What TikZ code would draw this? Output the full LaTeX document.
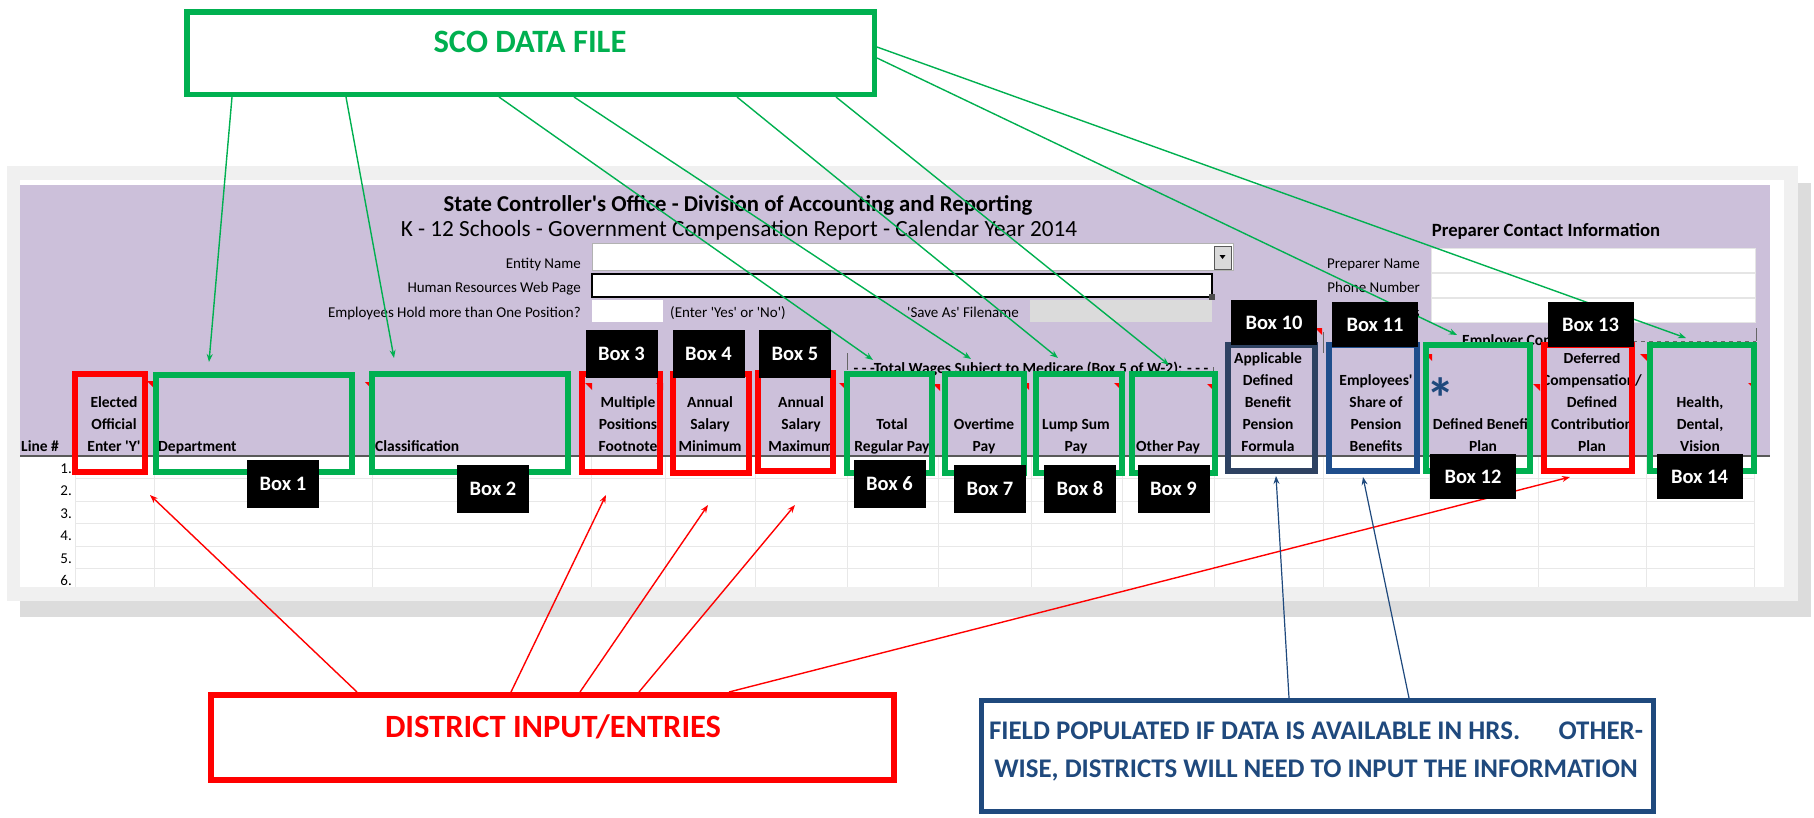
\documentclass[tikz,border=0pt]{standalone}
\usepackage{fontspec}
\setmainfont{Carlito}
\usepackage{xcolor}
\usepackage{tikz}
\usetikzlibrary{arrows.meta}

\definecolor{scogreen}{RGB}{0,176,80}
\definecolor{hdrpurple}{RGB}{204,192,218}
\definecolor{navyA}{RGB}{46,66,98}
\definecolor{navyB}{RGB}{31,78,140}
\definecolor{fieldblue}{RGB}{31,73,125}
\definecolor{shadowgray}{RGB}{220,220,220}
\definecolor{framegray}{RGB}{240,240,240}
\definecolor{gridgray}{RGB}{232,232,232}

\newcommand{\sq}{\textquotesingle}
\newcommand{\hd}[1]{\begin{tabular}[b]{@{}c@{}}#1\end{tabular}}
\newcommand{\hfont}{\fontsize{15.5}{22}\selectfont\bfseries}
\newcommand{\lfont}{\fontsize{15}{22}\selectfont}

\begin{document}
\begin{tikzpicture}[x=1pt,y=-1pt,
  redframe/.style={draw=red,line width=6pt},
  greenframe/.style={draw=scogreen,line width=6pt},
  boxlabel/.style={fill=black,text=white,inner sep=0pt,font=\fontsize{20.5}{24}\selectfont\bfseries},
  garrow/.style={draw=scogreen,line width=1.4pt,-{Stealth[length=8pt,width=6pt]}},
  rarrow/.style={draw=red,line width=1.4pt,-{Stealth[length=8pt,width=6pt]}},
  barrow/.style={draw=fieldblue,line width=1.2pt,-{Stealth[length=8pt,width=6pt]}},
  hdr/.style={font=\hfont,inner sep=0pt,anchor=base},
  lbl/.style={font=\lfont,inner sep=0pt}]
\useasboundingbox (0,0) rectangle (1814,817);
\fill[white] (0,0) rectangle (1814,817);
\fill[shadowgray] (20,183) rectangle (1811,617);
\fill[framegray] (7,166) rectangle (1798,601);
\fill[white] (20,180) rectangle (1784,587);
\fill[hdrpurple] (20,185) rectangle (1770,456);

\node[font=\fontsize{22.7}{26}\selectfont\bfseries,anchor=base,inner sep=0pt] (title) at (738,211) {State Controller\sq{}s Office - Division of Accounting and Reporting};
\node[font=\fontsize{23.2}{26}\selectfont,anchor=base,inner sep=0pt] (subtitle) at (739,236.5) {K - 12 Schools - Government Compensation Report - Calendar Year 2014};

\filldraw[fill=white,draw=gray!60] (592,243) rectangle (1233,270);
\filldraw[fill=gray!30,draw=gray!70!black] (1214,246) rectangle (1231,269);
\fill (1219.5,255) -- (1225.5,255) -- (1222.5,259) -- cycle;
\filldraw[fill=white,draw=black,line width=2pt] (592,274) rectangle (1212,297);
\fill[black!70] (1209,294) rectangle (1215,300);
\fill[white] (592,300) rectangle (663,322);
\fill[gray!28] (1030,300) rectangle (1212,322);
\foreach \y in {248,273,298} \filldraw[fill=white,draw=gray!20] (1431,\y) rectangle (1755,\y+24);

\node[lbl,anchor=base east] (entity) at (581,268) {Entity Name};
\node[lbl,anchor=base east] (hrweb) at (581,292) {Human Resources Web Page};
\node[lbl,anchor=base east] (onepos) at (581,317) {Employees Hold more than One Position?};
\node[lbl,anchor=base west] (yesno) at (670,317) {(Enter \sq{}Yes\sq{} or \sq{}No\sq{})};
\node[lbl,anchor=base west] (saveas) at (907,317) {\sq{}Save As\sq{} Filename};
\node[font=\fontsize{18.7}{22}\selectfont\bfseries,anchor=base,inner sep=0pt] (prep) at (1546,236) {Preparer Contact Information};
\node[lbl,anchor=base east] (pname) at (1420,268) {Preparer Name};
\node[lbl,anchor=base east] (phone) at (1420,292) {Phone Number};
\node[lbl,anchor=base east] (email) at (1420,317) {Email Address};

\draw[black!60] (847,353) -- (847,370);
\node[hdr] (wages) at (1031,373) {- - -Total Wages Subject to Medicare (Box 5 of W-2): - - -};
\draw[black!60] (1213,367) -- (1213,385);
\draw[black!60] (1323,332) -- (1323,353);
\node[hdr,anchor=base west] (employer) at (1462,345) {Employer Contributions};
\draw[black!60,dash pattern=on 4pt off 4pt] (1633,341) -- (1756,341);
\draw[black!60] (1756,328) -- (1756,341);

\node[hdr,anchor=base west] (hLine) at (21,451) {Line \#};
\node[hdr] (hElected) at (114,451) {\hd{Elected\\Official\\Enter \sq{}Y\sq{}}};
\node[hdr,anchor=base west] (hDept) at (158,451) {Department};
\node[hdr,anchor=base west] (hClass) at (375,451) {Classification};
\node[hdr] (hMulti) at (628,451) {\hd{Multiple\\Positions\\Footnote}};
\node[hdr] (hMin) at (710,451) {\hd{Annual\\Salary\\Minimum}};
\node[hdr] (hMax) at (801,451) {\hd{Annual\\Salary\\Maximum}};
\node[hdr] (hTotal) at (892,451) {\hd{Total\\Regular Pay}};
\node[hdr] (hOver) at (984,451) {\hd{Overtime\\Pay}};
\node[hdr] (hLump) at (1076,451) {\hd{Lump Sum\\Pay}};
\node[hdr] (hOther) at (1168,451) {Other Pay};
\node[hdr] (hFormula) at (1268,451) {\hd{Applicable\\Defined\\Benefit\\Pension\\Formula}};
\node[hdr] (hShare) at (1376,451) {\hd{Employees\sq{}\\Share of\\Pension\\Benefits}};
\node[hdr] (hDefBen) at (1483,451) {\hd{Defined Benefit\\Plan}};
\begin{scope}
\clip (1541,353) rectangle (1645,460);
\node[hdr] (hDefer) at (1592,451) {\hd{Deferred\\Compensation/\\Defined\\Contribution\\Plan}};
\end{scope}
\node[hdr] (hHealth) at (1700,451) {\hd{Health,\\Dental,\\Vision}};
\node[font=\fontsize{57}{57}\selectfont\bfseries,text=fieldblue,anchor=base,inner sep=0pt] (star) at (1441,418) {*};

\draw[black!65,line width=2pt] (20,456) -- (1770,456);
\foreach \x in {75,154,372,591,665,755,847,938,1031,1122,1214,1323,1429,1538,1646,1754}
  \draw[gridgray] (\x,457) -- (\x,587);
\foreach \y in {478.5,501,523.5,546,568.5}
  \draw[gridgray] (75,\y) -- (1754,\y);
\foreach \i in {1,...,6}
  \node[lbl,anchor=base east] (row\i) at (72,{473+22.5*(\i-1)}) {\i.};

\foreach \x/\y in {154/381,372/382,592/383,663/383,846/383,940/384,1029/383,1121/383,1214/384,1322/328,1432/354,1540/384,1647/354,1755/383}
  \fill[red] (\x,\y) -- ++(-7,0) -- ++(7,7) -- cycle;

\foreach \a/\b/\c/\d in {75/374/145/472,582/374/660/472,673/374/749/473,758/373/833/471,1544/345/1632/471}
  \draw[redframe] (\a,\b) rectangle (\c,\d);
\foreach \a/\b/\c/\d in {156/375/352/472,372/374/568/472,847/374/932/473,945/374/1024/473,1036/374/1122/473,1132/374/1215/473,1426/345/1530/471,1650/345/1754/471}
  \draw[greenframe] (\a,\b) rectangle (\c,\d);
\draw[draw=navyA,line width=6pt] (1228,345) rectangle (1315,471);
\draw[draw=navyB,line width=6pt] (1329,345) rectangle (1417,471);

\node[draw=scogreen,line width=5.5pt,minimum width=687.5pt,minimum height=82.5pt,inner sep=0pt] (sco) at (530.5,53) {};
\node[font=\fontsize{32.6}{36}\selectfont\bfseries,text=scogreen,anchor=base,inner sep=0pt] (scotext) at (530,52.5) {SCO DATA FILE};
\node[draw=red,line width=6pt,minimum width=683pt,minimum height=85pt,inner sep=0pt] (district) at (552.5,737.5) {};
\node[font=\fontsize{32.5}{36}\selectfont\bfseries,text=red,anchor=base,inner sep=0pt] (districttext) at (553,737.5) {DISTRICT INPUT/ENTRIES};
\node[draw=fieldblue,line width=5pt,minimum width=672pt,minimum height=111pt,inner sep=0pt] (field) at (1317.5,756) {};
\node[font=\fontsize{26.9}{38}\selectfont\bfseries,text=fieldblue,anchor=base,inner sep=0pt] (fieldtext) at (1316,739)
  {\begin{tabular}[t]{@{}c@{}}FIELD POPULATED IF DATA IS AVAILABLE IN HRS.\hspace{1.2em} OTHER-\\WISE, DISTRICTS WILL NEED TO INPUT THE INFORMATION\end{tabular}};

\coordinate (tDept) at (209,362);
\coordinate (tClass) at (394,358);
\coordinate (tTotal) at (873,360);
\coordinate (tOver) at (971,359);
\coordinate (tLump) at (1058,358);
\coordinate (tOther) at (1169,365);
\coordinate (tDefBen) at (1457,335);
\coordinate (tHealth) at (1686,338);
\coordinate (tElected) at (150,495);
\coordinate (tFoot) at (606,495);
\coordinate (tMin) at (708,505);
\coordinate (tMax) at (795,505);
\coordinate (tDefer) at (1570,477);
\coordinate (tFormula) at (1276,476);
\coordinate (tShare) at (1363,477);

\draw[garrow] (sco.south -| 232,0) -- (tDept);
\draw[garrow] (sco.south -| 346,0) -- (tClass);
\draw[garrow] (sco.south -| 499,0) -- (tTotal);
\draw[garrow] (sco.south -| 574,0) -- (tOver);
\draw[garrow] (sco.south -| 737,0) -- (tLump);
\draw[garrow] (sco.south -| 836,0) -- (tOther);
\draw[garrow] (sco.east |- 0,58) -- (tDefBen);
\draw[garrow] (sco.east |- 0,47) -- (tHealth);
\draw[rarrow] (district.north -| 357,0) -- (tElected);
\draw[rarrow] (district.north -| 511,0) -- (tFoot);
\draw[rarrow] (district.north -| 580,0) -- (tMin);
\draw[rarrow] (district.north -| 639,0) -- (tMax);
\draw[rarrow] (district.north -| 729,0) -- (tDefer);
\draw[barrow] (field.north -| 1289,0) -- (tFormula);
\draw[barrow] (field.north -| 1409,0) -- (tShare);

\foreach \n/\x/\y in {1/283/484,2/493/488.5,3/621.5/354,4/708.5/354,5/795/354,6/889.5/484,7/990/488.5,8/1080/488.5,9/1173.5/488.5}
  \node[boxlabel,minimum width=72pt,minimum height=48pt] (box\n) at (\x,\y) {Box \n};
\foreach \n/\x/\y in {10/1274/322.5,11/1375/324.5,12/1473/476.5,13/1590.5/324.5,14/1699.5/476.5}
  \node[boxlabel,minimum width=86pt,minimum height=45pt] (box\n) at (\x,\y) {Box \n};
\end{tikzpicture}
\end{document}
